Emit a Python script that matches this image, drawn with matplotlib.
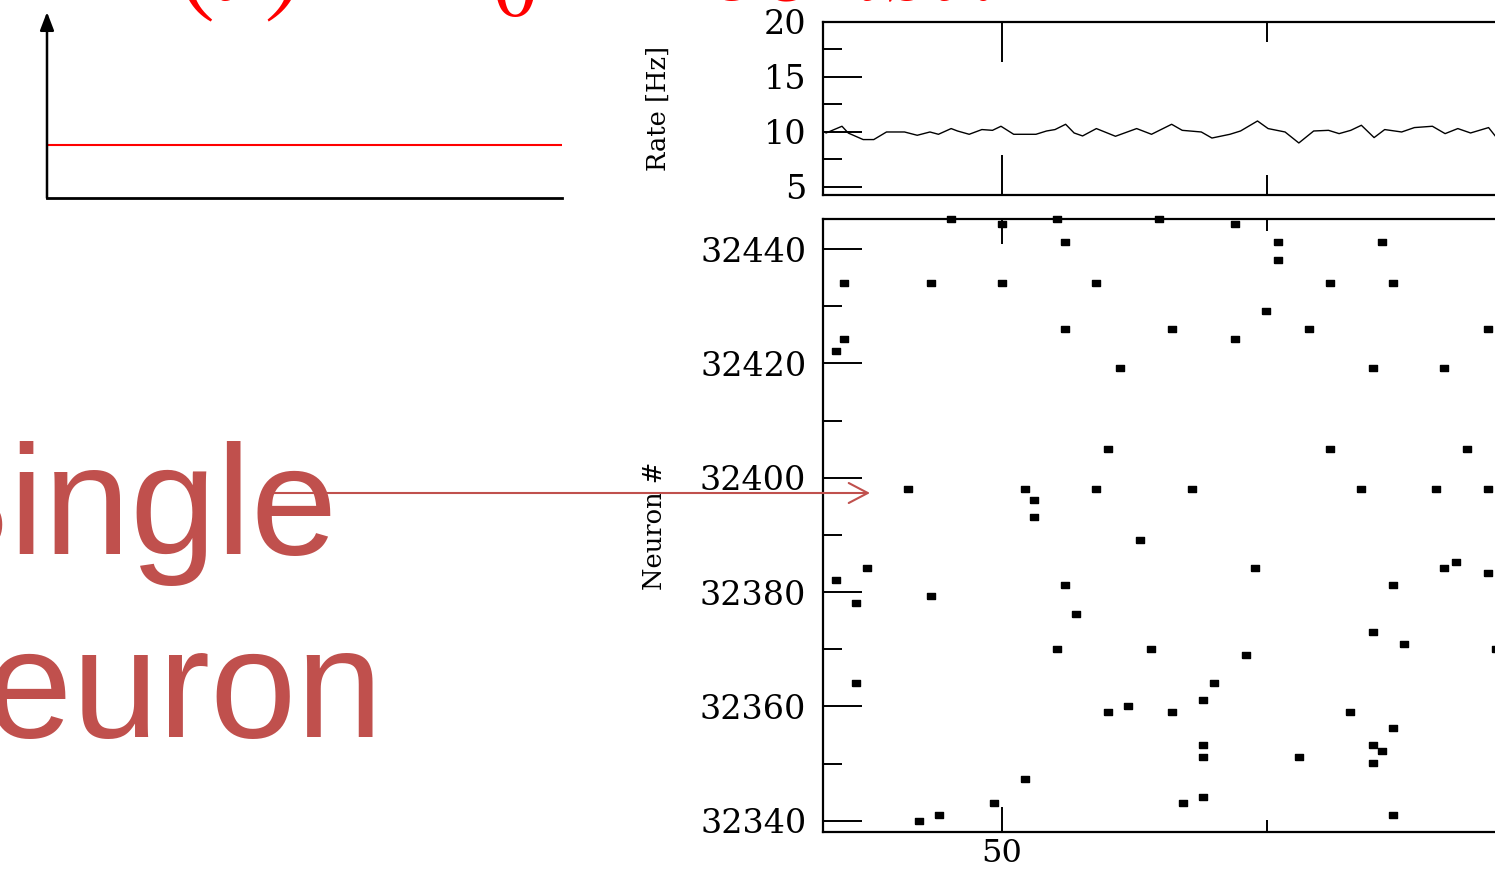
import matplotlib
matplotlib.use("Agg")
import matplotlib.pyplot as plt

plt.rcParams['mathtext.fontset'] = 'stix'

# ---------------- data ----------------
# population rate (top panel)
rate_t = [33.4, 34.9, 35.5, 36.9, 37.9, 39.1, 40.8, 42.0, 43.2, 44.0, 45.2, 45.8,
          46.9, 48.1, 49.1, 49.9, 51.1, 53.2, 54.2, 55.0, 56.0, 56.8, 57.6, 58.9,
          60.7, 62.7, 64.1, 66.0, 67.0, 68.8, 69.8, 71.5, 72.5, 74.1, 75.1, 76.7,
          78.0, 79.4, 80.8, 81.8, 82.9, 83.9, 85.1, 86.1, 87.7, 88.9, 90.6, 91.8,
          93.0, 94.2, 95.9, 96.6]
rate_hz = [9.91, 10.52, 9.9, 9.31, 9.31, 10.0, 10.0, 9.7, 10.0, 9.79, 10.31, 10.09,
           9.79, 10.22, 10.15, 10.52, 9.79, 9.79, 10.09, 10.22, 10.7, 9.91, 9.64, 10.31,
           9.61, 10.31, 9.79, 10.7, 10.15, 10.0, 9.45, 9.79, 10.09, 11.0, 10.31, 10.0,
           9.0, 10.09, 10.15, 9.85, 10.15, 10.61, 9.49, 10.22, 10.0, 10.4, 10.52, 9.85,
           10.31, 9.91, 10.4, 9.55]

# spike raster (bottom panel)
spike_t = [45.2, 50.0, 55.2, 64.8, 55.9, 35.1, 43.3, 50.0, 58.9, 55.9, 35.1, 34.3,
           61.1, 60.0, 41.1, 52.2, 58.9, 53.0, 53.0,
           72.0, 76.0, 85.8, 76.0, 80.9, 86.9, 74.9, 66.0, 79.0, 95.8, 72.0, 85.0,
           91.7, 80.9, 93.9, 67.9, 83.9, 90.9, 95.8,
           63.0, 37.3, 34.3, 55.9, 36.2, 43.3, 57.0, 55.2, 64.1, 36.2, 60.0, 61.9,
           52.2, 49.2, 42.2, 44.1,
           73.9, 91.7, 92.8, 95.8, 86.9, 85.0, 87.9, 96.6, 73.0, 70.0, 69.0, 66.0,
           82.8, 86.9, 69.0, 69.0, 78.0, 85.0, 85.8, 85.0, 67.1, 69.0, 86.9]
spike_id = [32445.2, 32444.4, 32445.2, 32445.2, 32441.3, 32434.1, 32434.1, 32434.1,
            32434.1, 32426.1, 32424.2, 32422.2, 32419.2, 32405.0, 32398.1, 32398.1,
            32398.1, 32396.1, 32393.2,
            32444.3, 32441.3, 32441.3, 32438.0, 32434.1, 32434.1, 32429.2, 32426.1,
            32426.1, 32426.1, 32424.2, 32419.2, 32419.2, 32405.0, 32405.0, 32398.1,
            32398.1, 32398.1, 32398.1,
            32389.2, 32384.3, 32382.2, 32381.2, 32378.1, 32379.3, 32376.1, 32370.0,
            32370.0, 32364.1, 32359.1, 32360.1, 32347.3, 32343.1, 32340.0, 32341.0,
            32384.3, 32384.3, 32385.2, 32383.3, 32381.2, 32373.0, 32371.0, 32370.0,
            32369.0, 32364.1, 32361.1, 32359.1, 32359.1, 32356.2, 32353.2, 32351.2,
            32351.2, 32353.2, 32352.2, 32350.2, 32343.1, 32344.1, 32341.0]

x_major = [50, 100]
x_major_labels = ['50', '']
x_minor = [75]
rate_yticks = [5, 10, 15, 20]
rate_yminor = [7.5, 12.5, 17.5]
raster_yticks = [32340, 32360, 32380, 32400, 32420, 32440]
raster_yminor = [32350, 32370, 32390, 32410, 32430]
input_level = 0.285

title_text = r"$I\;(t\,)\,=\,I_0\;=\;const.$"
label_line1 = "Single"
label_line2 = "Neuron"
rate_label = "Rate [Hz]"
raster_label = "Neuron #"

# ---------------- layout helpers ----------------
W, H = 1495, 869
fig = plt.figure(figsize=(W / 100, H / 100), dpi=100)
fig.patch.set_facecolor('white')


def rect(l, t, r, b):
    return [l / W, 1 - b / H, (r - l) / W, (b - t) / H]


SERIF = 'DejaVu Serif'
TICKFS = 24
RED = '#C0504D'

x_left = 33.11
px_per_unit = 10.6
ax_right_px = 1600
xlim = (x_left, x_left + (ax_right_px - 823) / px_per_unit)

# ---------------- rate panel ----------------
ax_rate = fig.add_axes(rect(823, 22, ax_right_px, 195))
ax_rate.plot(rate_t, rate_hz, color='black', lw=1.0)
ax_rate.set_xlim(*xlim)
ax_rate.set_ylim(4.27, 20)
ax_rate.set_xticks(x_major)
ax_rate.set_xticks(x_minor, minor=True)
ax_rate.set_yticks(rate_yticks)
ax_rate.set_yticks(rate_yminor, minor=True)
ax_rate.tick_params(axis='x', which='major', direction='in', length=29, width=1.4,
                    top=True, bottom=True, labelbottom=False)
ax_rate.tick_params(axis='x', which='minor', direction='in', length=14.5, width=1.4,
                    top=True, bottom=True)
ax_rate.tick_params(axis='y', which='major', direction='in', length=28, width=1.4,
                    left=True, right=False, pad=12, labelsize=TICKFS)
ax_rate.tick_params(axis='y', which='minor', direction='in', length=14, width=1.4,
                    left=True, right=False)
for lab in ax_rate.get_yticklabels():
    lab.set_family(SERIF)
ax_rate.set_ylabel(rate_label, family=SERIF, fontsize=18.5)
ax_rate.yaxis.set_label_coords((658 - 823) / (ax_right_px - 823), 0.5)
ax_rate.yaxis.label.set_verticalalignment('center')

# ---------------- raster panel ----------------
ax_ras = fig.add_axes(rect(823, 219, ax_right_px, 832.3))
box = [(-1, -0.62), (1, -0.62), (1, 0.62), (-1, 0.62), (-1, -0.62)]
ax_ras.plot(spike_t, spike_id, ls='none', marker=box, ms=6.3, color='black',
            clip_on=False, zorder=3)
ax_ras.set_xlim(*xlim)
ax_ras.set_ylim(32338.0, 32445.25)
ax_ras.set_xticks(x_major)
ax_ras.set_xticklabels(x_major_labels)
ax_ras.set_xticks(x_minor, minor=True)
ax_ras.set_yticks(raster_yticks)
ax_ras.set_yticks(raster_yminor, minor=True)
ax_ras.tick_params(axis='x', which='major', direction='in', length=18, width=1.4,
                   top=True, bottom=True, pad=4, labelsize=23)
ax_ras.tick_params(axis='x', which='minor', direction='in', length=8.6, width=1.4,
                   top=True, bottom=True)
ax_ras.tick_params(axis='y', which='major', direction='in', length=28, width=1.4,
                   left=True, right=False, pad=12, labelsize=TICKFS)
ax_ras.tick_params(axis='y', which='minor', direction='in', length=14, width=1.4,
                   left=True, right=False)
for lab in ax_ras.get_yticklabels() + ax_ras.get_xticklabels():
    lab.set_family(SERIF)
ax_ras.set_ylabel(raster_label, family=SERIF, fontsize=18.5)
ax_ras.yaxis.set_label_coords((655 - 823) / (ax_right_px - 823), 0.5)
ax_ras.yaxis.label.set_verticalalignment('center')

for ax in (ax_rate, ax_ras):
    for s in ax.spines.values():
        s.set_linewidth(1.6)
    ax.spines['right'].set_visible(False)

# ---------------- input current sketch ----------------
ax_in = fig.add_axes(rect(47, 12, 562, 198))
ax_in.set_xlim(0, 1)
ax_in.set_ylim(0, 1)
ax_in.plot([0, 1], [input_level, input_level], color='red', lw=1.5)
for side in ('top', 'right', 'left'):
    ax_in.spines[side].set_visible(False)
ax_in.spines['bottom'].set_linewidth(2.0)
ax_in.set_xticks([])
ax_in.set_yticks([])
ax_in.patch.set_alpha(0)
ax_in.annotate('', xy=(0, 1), xytext=(0, 0), xycoords='axes fraction',
               arrowprops=dict(arrowstyle='-|>,head_length=1.1,head_width=0.42',
                               mutation_scale=10, color='black', lw=1.8,
                               shrinkA=0, shrinkB=0))

# ---------------- overlay: texts and arrow ----------------
ov = fig.add_axes([0, 0, 1, 1], zorder=10)
ov.set_xlim(0, W)
ov.set_ylim(H, 0)
ov.axis('off')
ov.patch.set_alpha(0)

ov.text(108, 0, title_text, color='red', fontsize=88, ha='left', va='baseline')
ov.text(122, 554, label_line1, color=RED, fontsize=111.6, family='Liberation Sans',
        ha='center', va='baseline')
ov.text(129, 737, label_line2, color=RED, fontsize=111.6, family='Liberation Sans',
        ha='center', va='baseline')
ov.annotate('', xy=(870, 493), xytext=(272, 493),
            arrowprops=dict(arrowstyle='->,head_length=1.37,head_width=0.72',
                            mutation_scale=10, color=RED, lw=1.5,
                            shrinkA=0, shrinkB=0))

fig.savefig('out.png', dpi=100)
